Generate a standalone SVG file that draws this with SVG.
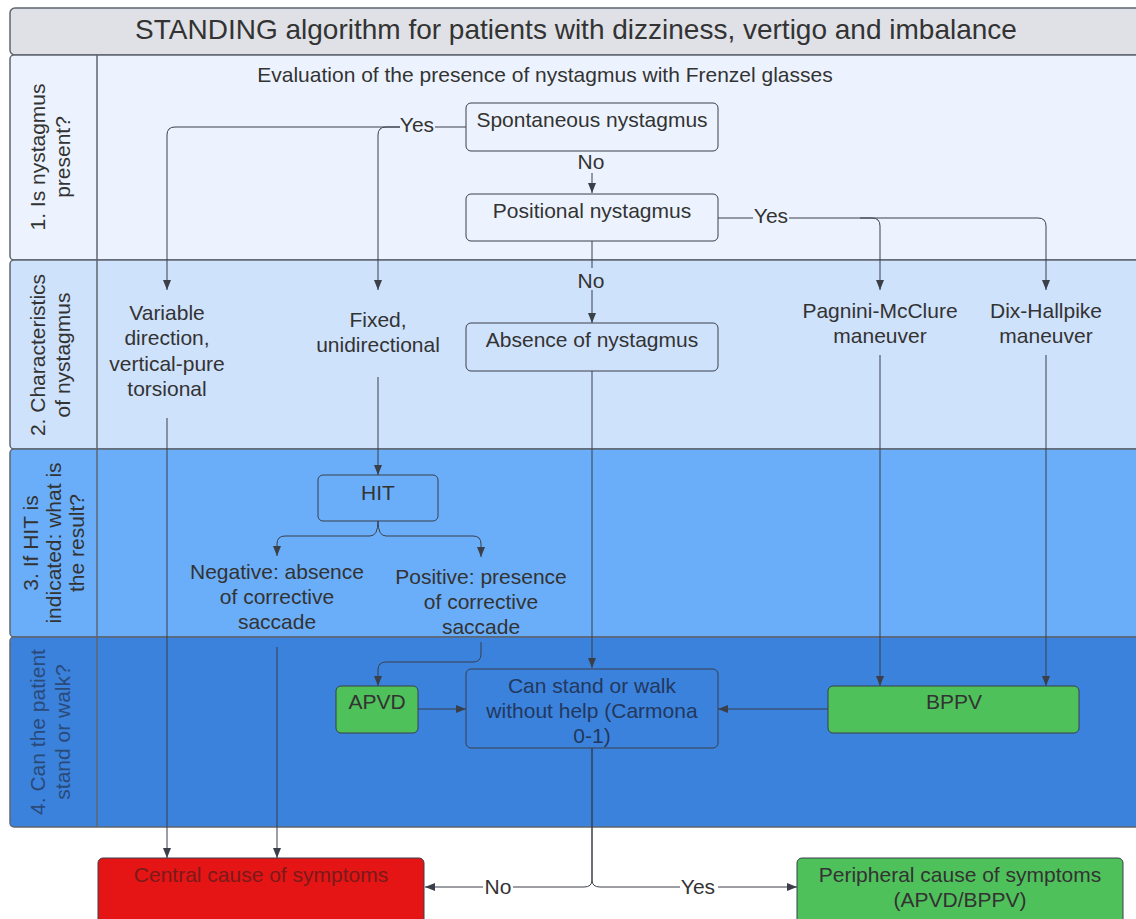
<svg xmlns="http://www.w3.org/2000/svg" width="1136" height="919" viewBox="0 0 1136 919">
<style>
text{font-family:"Liberation Sans",Arial,sans-serif;fill:#333;}
.t{font-size:21px;text-anchor:middle;}
.lab{font-size:21px;text-anchor:middle;}
.lane{stroke:#5f6570;stroke-width:1.5;}
.box{stroke:#3a3f4a;stroke-width:1;}
.ca{fill:none;stroke:#3a3f4a;stroke-width:1;marker-end:url(#ah);}
</style>
<defs>
<marker id="ah" viewBox="0 0 10 10" refX="10" refY="5" markerWidth="10" markerHeight="10" markerUnits="userSpaceOnUse" orient="auto">
<path d="M0,1 L10,5 L0,9 z" fill="#3a3f4a"/>
</marker>
</defs>
<rect width="1136" height="919" fill="#ffffff"/>
<g id="pool">
<rect x="10" y="8" width="1140" height="47" rx="5" fill="#dfe1e6" class="lane"/>
<text x="576" y="39" font-size="28" text-anchor="middle">STANDING algorithm for patients with dizziness, vertigo and imbalance</text>
<rect x="10" y="55" width="1140" height="205" rx="4" fill="#edf3fe" class="lane"/>
<rect x="10" y="260" width="1140" height="189" rx="4" fill="#cfe2fc" class="lane"/>
<rect x="10" y="449" width="1140" height="188" rx="4" fill="#6aaef9" class="lane"/>
<rect x="10" y="637" width="1140" height="190" rx="4" fill="#3b82dc" class="lane"/>
<line x1="97" y1="55" x2="97" y2="827" class="lane"/>
<text class="lab" transform="translate(0,157) rotate(-90)"><tspan x="0" y="45">1. Is nystagmus</tspan><tspan x="0" y="70">present?</tspan></text>
<text class="lab" transform="translate(0,355) rotate(-90)"><tspan x="0" y="45">2. Characteristics</tspan><tspan x="0" y="70">of nystagmus</tspan></text>
<text class="lab" transform="translate(0,543) rotate(-90)"><tspan x="0" y="38">3. If HIT is</tspan><tspan x="0" y="61">indicated: what is</tspan><tspan x="0" y="84">the result?</tspan></text>
<text class="lab" transform="translate(0,732) rotate(-90)" style="fill:#2a4a7a"><tspan x="0" y="45">4. Can the patient</tspan><tspan x="0" y="70">stand or walk?</tspan></text>
</g>
<g id="connectors">
<path class="ca" d="M466,127 H175 Q167,127 167,135 V290"/>
<path class="ca" d="M400,127 H386 Q378,127 378,135 V290"/>
<path class="ca" d="M592,151 V193"/>
<path class="ca" d="M718,218 H872 Q880,218 880,226 V290"/>
<path class="ca" d="M860,218 H1038 Q1046,218 1046,226 V290"/>
<path class="ca" d="M592,241 V323"/>
<path class="ca" d="M378,377 V475"/>
<path class="ca" d="M378,521 Q378,536 370,536 H285 Q277,536 277,544 V556"/>
<path class="ca" d="M378,521 Q378,536 386,536 H473 Q481,536 481,544 V557"/>
<path class="ca" d="M592,371 V668"/>
<path class="ca" d="M481,642 V654 Q481,662 473,662 H386 Q378,662 378,670 V686"/>
<path class="ca" d="M880,355 V686"/>
<path class="ca" d="M1046,355 V686"/>
<path class="ca" d="M418,709 H466"/>
<path class="ca" d="M828,709 H718"/>
<path class="ca" d="M167,418 V858"/>
<path class="ca" d="M277,647 V858"/>
<path class="ca" d="M592,748 V880 Q592,887 584,887 H425"/>
<path class="ca" d="M592,748 V880 Q592,887 600,887 H797"/>
<rect x="400" y="114" width="35" height="22" fill="#edf3fe"/>
<text class="t" x="417" y="132">Yes</text>
<rect x="576" y="151" width="32" height="22" fill="#edf3fe"/>
<text class="t" x="591" y="169">No</text>
<rect x="753" y="206" width="36" height="22" fill="#edf3fe"/>
<text class="t" x="771" y="223">Yes</text>
<rect x="576" y="268" width="32" height="22" fill="#cfe2fc"/>
<text class="t" x="591" y="288">No</text>
<rect x="483" y="876" width="30" height="22" fill="#ffffff"/>
<text class="t" x="498" y="894">No</text>
<rect x="680" y="876" width="38" height="22" fill="#ffffff"/>
<text class="t" x="698" y="894">Yes</text>
</g>
<g id="evaluation"><text class="t" x="545" y="82">Evaluation of the presence of nystagmus with Frenzel glasses</text></g>
<g id="spontaneous"><rect class="box" x="466" y="103" width="252" height="48" rx="5" fill="#edf3fe"/><text class="t" x="592" y="127">Spontaneous nystagmus</text></g>
<g id="positional"><rect class="box" x="466" y="194" width="252" height="47" rx="5" fill="#edf3fe"/><text class="t" x="592" y="218">Positional nystagmus</text></g>
<g id="variable"><text class="t"><tspan x="167" y="320">Variable</tspan><tspan x="167" y="345">direction,</tspan><tspan x="167" y="371">vertical-pure</tspan><tspan x="167" y="396">torsional</tspan></text></g>
<g id="fixed"><text class="t"><tspan x="378" y="327">Fixed,</tspan><tspan x="378" y="352">unidirectional</tspan></text></g>
<g id="absence"><rect class="box" x="466" y="323" width="252" height="48" rx="5" fill="#cfe2fc"/><text class="t" x="592" y="347">Absence of nystagmus</text></g>
<g id="pagnini"><text class="t"><tspan x="880" y="318">Pagnini-McClure</tspan><tspan x="880" y="343">maneuver</tspan></text></g>
<g id="dixhallpike"><text class="t"><tspan x="1046" y="318">Dix-Hallpike</tspan><tspan x="1046" y="343">maneuver</tspan></text></g>
<g id="hit"><rect class="box" x="318" y="475" width="120" height="46" rx="5" fill="#6aaef9"/><text class="t" x="378" y="500">HIT</text></g>
<g id="negative"><text class="t"><tspan x="277" y="579">Negative: absence</tspan><tspan x="277" y="604">of corrective</tspan><tspan x="277" y="629">saccade</tspan></text></g>
<g id="positive"><text class="t"><tspan x="481" y="584">Positive: presence</tspan><tspan x="481" y="609">of corrective</tspan><tspan x="481" y="634">saccade</tspan></text></g>
<g id="apvd"><rect class="box" x="336" y="686" width="82" height="47" rx="5" fill="#4fc15b"/><text class="t" x="377" y="709">APVD</text></g>
<g id="canstand"><rect class="box" x="466" y="669" width="252" height="79" rx="5" fill="#3b82dc"/><text class="t" style="fill:#22385e"><tspan x="592" y="693">Can stand or walk</tspan><tspan x="592" y="718">without help (Carmona</tspan><tspan x="592" y="743">0-1)</tspan></text></g>
<g id="bppv"><rect class="box" x="828" y="686" width="251" height="47" rx="5" fill="#4fc15b"/><text class="t" x="954" y="709">BPPV</text></g>
<g id="central"><rect class="box" x="98" y="858" width="326" height="70" rx="5" fill="#e51515"/><text class="t" x="261" y="882" style="fill:#7a1a1a">Central cause of symptoms</text></g>
<g id="peripheral"><rect class="box" x="797" y="858" width="326" height="70" rx="5" fill="#4fc15b"/><text class="t"><tspan x="960" y="882">Peripheral cause of symptoms</tspan><tspan x="960" y="907">(APVD/BPPV)</tspan></text></g>
</svg>
